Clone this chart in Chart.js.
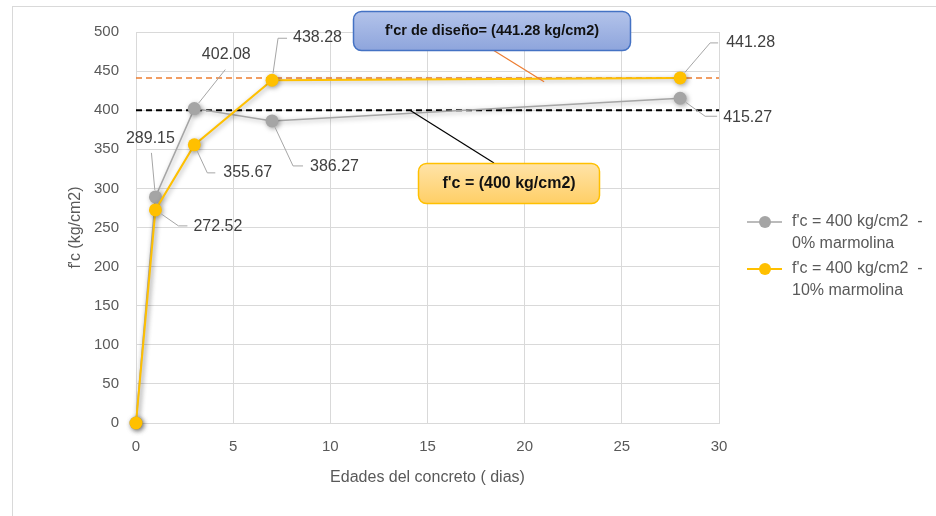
<!DOCTYPE html>
<html>
<head>
<meta charset="utf-8">
<script src="https://cdn.jsdelivr.net/npm/chart.js@4.4.0/dist/chart.umd.min.js"></script>
<style>
  html, body { margin: 0; padding: 0; background: #fff; }
</style>
</head>
<body>
<canvas id="resistenciaChart" width="936" height="516"></canvas>
<script>
// datos
const edades = [0, 1, 3, 7, 28];
const fc0 = [0, 289.15, 402.08, 386.27, 415.27];   // 0% marmolina
const fc10 = [0, 272.52, 355.67, 438.28, 441.28];  // 10% marmolina
const fcrDiseno = 441.28;
const fcEspecificado = 400;
const nombreSerie = [["f'c = 400 kg/cm2  -", "0% marmolina"], ["f'c = 400 kg/cm2  -", "10% marmolina"]];
const textoDiseno = "f'cr de diseño= (441.28 kg/cm2)";
const textoEspec = "f'c = (400 kg/cm2)";

const GRIS = '#A5A5A5';
const AMARILLO = '#FFC000';
const FUENTE = "'Liberation Sans', Arial, sans-serif";

// posicion de etiquetas (desplazamientos en px respecto al punto)
// [lx, ly, hx, tx, ty, align]  hx = null -> linea recta
const etiquetas = [
    [null,
     [-4, -44, null, -5, -58, 'center'],
     [31, -39, null, 32, -54, 'center'],
     [21, 45, 31, 38, 46, 'left'],
     [25, 18, 37, 43, 19, 'left']],
    [null,
     [23, 16, 32, 38, 17, 'left'],
     [13, 28, 21, 29, 28, 'left'],
     [6, -42, 15, 21, -43, 'left'],
     [30, -35, 38, 46, -35, 'left']]
];

const puntos = arr => edades.map((e, i) => ({ x: e, y: arr[i] }));

// sombra para las series
const sombraPlugin = {
    id: 'sombra',
    beforeDatasetDraw(chart, args) {
        if (args.index > 1) return;
        const ctx = chart.ctx;
        ctx.save();
        ctx.shadowColor = 'rgba(0,0,0,0.35)';
        ctx.shadowBlur = 5;
        ctx.shadowOffsetX = 1.5;
        ctx.shadowOffsetY = 1.5;
    },
    afterDatasetDraw(chart, args) {
        if (args.index > 1) return;
        chart.ctx.restore();
    }
};

const extrasPlugin = {
    id: 'extras',
    beforeDraw(chart) {
        const ctx = chart.ctx;
        ctx.save();
        ctx.fillStyle = '#fff';
        ctx.fillRect(0, 0, chart.width, chart.height);
        ctx.strokeStyle = '#D9D9D9';
        ctx.lineWidth = 1;
        ctx.strokeRect(12.5, 6.5, chart.width, chart.height);
        ctx.restore();
    },
    afterDraw(chart) {
        const ctx = chart.ctx;
        const xs = chart.scales.x, ys = chart.scales.y;
        ctx.save();

        // etiquetas de datos con lineas guia
        ctx.font = '16px ' + FUENTE;
        ctx.textBaseline = 'middle';
        [0, 1].forEach(d => {
            const meta = chart.getDatasetMeta(d);
            const vals = d === 0 ? fc0 : fc10;
            meta.data.forEach((pt, i) => {
                const cfg = etiquetas[d][i];
                if (!cfg) return;
                const [lx, ly, hx, tx, ty, align] = cfg;
                const len = Math.hypot(lx, ly);
                ctx.strokeStyle = '#A6A6A6';
                ctx.lineWidth = 1;
                ctx.beginPath();
                ctx.moveTo(pt.x + lx / len * 7, pt.y + ly / len * 7);
                ctx.lineTo(pt.x + lx, pt.y + ly);
                if (hx !== null) ctx.lineTo(pt.x + hx, pt.y + ly);
                ctx.stroke();
                ctx.fillStyle = '#404040';
                ctx.textAlign = align;
                ctx.fillText(vals[i].toFixed(2), pt.x + tx, pt.y + ty);
            });
        });

        // conectores de las notas
        ctx.lineWidth = 1.2;
        ctx.strokeStyle = '#ED7D31';
        ctx.beginPath();
        ctx.moveTo(493, 50);
        ctx.lineTo(xs.getPixelForValue(21), ys.getPixelForValue(fcrDiseno - 5));
        ctx.stroke();
        ctx.strokeStyle = '#000';
        ctx.beginPath();
        ctx.moveTo(xs.getPixelForValue(14.1), ys.getPixelForValue(fcEspecificado));
        ctx.lineTo(494, 163);
        ctx.stroke();

        // notas
        const nota = (x, y, w, h, c1, c2, borde, texto, tam) => {
            const g = ctx.createLinearGradient(0, y, 0, y + h);
            g.addColorStop(0, c1);
            g.addColorStop(1, c2);
            ctx.beginPath();
            ctx.roundRect(x, y, w, h, 8);
            ctx.fillStyle = g;
            ctx.fill();
            ctx.lineWidth = 1.5;
            ctx.strokeStyle = borde;
            ctx.stroke();
            ctx.fillStyle = '#111';
            ctx.font = 'bold ' + tam + 'px ' + FUENTE;
            ctx.textAlign = 'center';
            ctx.textBaseline = 'middle';
            ctx.fillText(texto, x + w / 2, y + h / 2);
        };
        nota(353.5, 11.5, 277, 39, '#B3C3EA', '#8EA5DC', '#4472C4', textoDiseno, 14.5);
        nota(418.5, 163.5, 181, 40, '#FFE3A8', '#FFCF66', '#FFC000', textoEspec, 16);

        // leyenda
        const leyendaY = [222, 269];
        const colores = [GRIS, AMARILLO];
        ctx.font = '16px ' + FUENTE;
        ctx.textAlign = 'left';
        ctx.textBaseline = 'middle';
        leyendaY.forEach((y, k) => {
            ctx.strokeStyle = colores[k];
            ctx.lineWidth = k === 0 ? 1.5 : 2;
            ctx.beginPath();
            ctx.moveTo(747, y);
            ctx.lineTo(782, y);
            ctx.stroke();
            ctx.fillStyle = colores[k];
            ctx.beginPath();
            ctx.arc(765, y, 6, 0, Math.PI * 2);
            ctx.fill();
            ctx.fillStyle = '#595959';
            ctx.fillText(nombreSerie[k][0], 792, y);
            ctx.fillText(nombreSerie[k][1], 792, y + 22);
        });
        ctx.restore();
    }
};

const ctx = document.getElementById('resistenciaChart').getContext('2d');
const resistenciaChart = new Chart(ctx, {
    type: 'scatter',
    data: {
        datasets: [
            {
                label: nombreSerie[0].join(' '),
                data: puntos(fc0),
                showLine: true,
                borderColor: GRIS,
                backgroundColor: GRIS,
                borderWidth: 1.5,
                pointRadius: 6.5,
                pointBorderWidth: 0,
                order: 1,
                clip: false
            },
            {
                label: nombreSerie[1].join(' '),
                data: puntos(fc10),
                showLine: true,
                borderColor: AMARILLO,
                backgroundColor: AMARILLO,
                borderWidth: 2,
                pointRadius: 6.5,
                pointBorderWidth: 0,
                order: 0,
                clip: false
            },
            {
                label: 'diseño',
                data: [{ x: 0, y: fcrDiseno }, { x: 30, y: fcrDiseno }],
                showLine: true,
                borderColor: '#ED7D31',
                borderWidth: 1.5,
                borderDash: [6, 4],
                pointRadius: 0,
                order: 10
            },
            {
                label: 'especificado',
                data: [{ x: 0, y: fcEspecificado }, { x: 30, y: fcEspecificado }],
                showLine: true,
                borderColor: '#000',
                borderWidth: 2,
                borderDash: [6, 4],
                pointRadius: 0,
                order: 11
            }
        ]
    },
    options: {
        responsive: false,
        animation: false,
        layout: { padding: { left: 62, top: 32, right: 217, bottom: 25 } },
        plugins: {
            legend: { display: false },
            tooltip: { enabled: false }
        },
        scales: {
            x: {
                type: 'linear',
                min: 0,
                max: 30,
                ticks: { stepSize: 5, padding: 15, color: '#595959', font: { size: 15, family: FUENTE } },
                grid: { color: '#D9D9D9', drawTicks: false },
                border: { color: '#D9D9D9' },
                title: {
                    display: true,
                    text: 'Edades del concreto ( dias)',
                    color: '#595959',
                    font: { size: 16, family: FUENTE }
                },
                afterFit: s => { s.height = 68; }
            },
            y: {
                min: 0,
                max: 500,
                ticks: { stepSize: 50, padding: 17, color: '#595959', font: { size: 15, family: FUENTE } },
                grid: { color: '#D9D9D9', drawTicks: false },
                border: { color: '#D9D9D9' },
                title: {
                    display: true,
                    text: "f'c (kg/cm2)",
                    color: '#595959',
                    font: { size: 16, family: FUENTE }
                },
                afterFit: s => { s.width = 74; }
            }
        }
    },
    plugins: [sombraPlugin, extrasPlugin]
});
</script>
</body>
</html>
